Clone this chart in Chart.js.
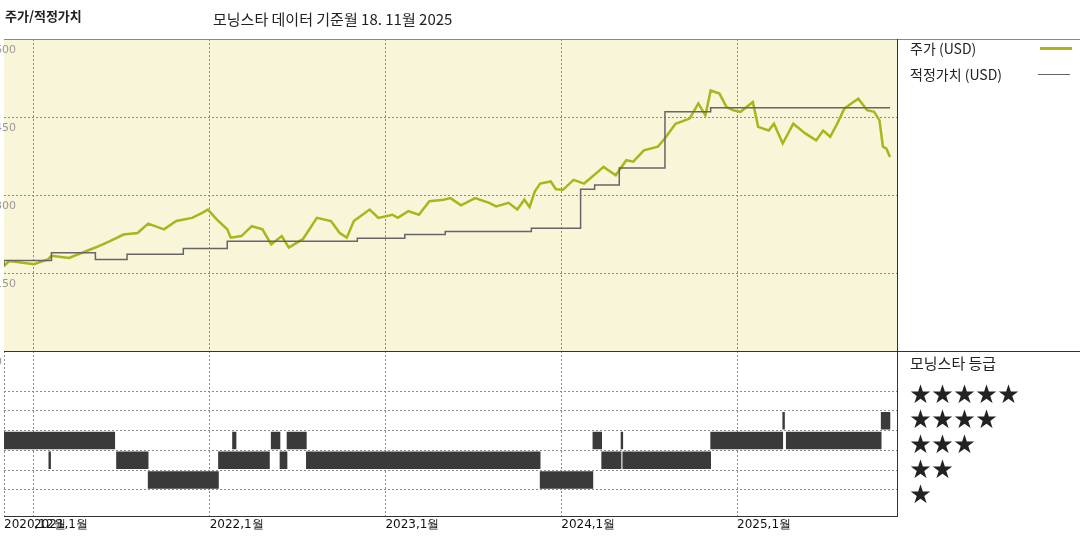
<!DOCTYPE html>
<html><head><meta charset="utf-8">
<script src="https://cdn.jsdelivr.net/npm/chart.js@4"></script>
<style>
body{margin:0;background:#fff;font-family:"Noto Sans CJK KR",sans-serif;}
#wrap{position:relative;width:1080px;height:540px;overflow:hidden;}
canvas{position:absolute;left:0;}
.t{position:absolute;white-space:nowrap;color:#222;}
.ln{position:absolute;background:#333;}
</style></head><body>
<div id="wrap">
<canvas id="price" width="1080" height="372" style="top:0;"></canvas>
<canvas id="rating" width="1080" height="189" style="top:351px;"></canvas>
<div class="t" style="left:5px;top:6px;font-size:13px;font-weight:bold">주가/적정가치</div>
<div class="t" style="left:213px;top:8px;font-size:15px">모닝스타 데이터 기준월 18. 11월 2025</div>
<div class="ln" style="left:4px;top:39px;width:1076px;height:1px;background:#888"></div>
<div class="ln" style="left:4px;top:351px;width:1076px;height:1px"></div>
<div class="ln" style="left:4px;top:516px;width:893px;height:1px"></div>
<div class="ln" style="left:897px;top:39px;width:1px;height:478px"></div>
<div class="t" style="left:910px;top:38px;font-size:14px">주가 (USD)</div>
<div class="ln" style="left:1040px;top:47px;width:32px;height:3px;background:#aab51c"></div>
<div class="t" style="left:910px;top:64px;font-size:14px">적정가치 (USD)</div>
<div class="ln" style="left:1038px;top:74px;width:32px;height:1px;background:#666"></div>
<div class="t" style="left:910px;top:352px;font-size:15px">모닝스타 등급</div>
<div class="t" style="left:910px;top:377px;font-size:21px;letter-spacing:1px">★★★★★</div>
<div class="t" style="left:910px;top:402px;font-size:21px;letter-spacing:1px">★★★★</div>
<div class="t" style="left:910px;top:427px;font-size:21px;letter-spacing:1px">★★★</div>
<div class="t" style="left:910px;top:452px;font-size:21px;letter-spacing:1px">★★</div>
<div class="t" style="left:910px;top:477px;font-size:21px;letter-spacing:1px">★</div>
</div>
<script>
// price (USD), x = fractional year
const priceDates = [2020.83,2020.86,2021.00,2021.08,2021.10,2021.20,2021.35,2021.43,2021.51,2021.59,2021.65,2021.74,2021.81,2021.90,2021.96,2021.99,
  2022.04,2022.10,2022.12,2022.18,2022.24,2022.30,2022.35,2022.41,2022.45,2022.53,2022.61,2022.69,2022.74,2022.78,2022.82,2022.91,2022.96,
  2023.04,2023.07,2023.13,2023.19,2023.25,2023.33,2023.37,2023.43,2023.51,2023.59,2023.63,2023.70,2023.75,2023.79,2023.82,2023.85,
  2023.88,2023.94,2023.97,2024.01,2024.07,2024.13,2024.21,2024.24,2024.31,2024.37,2024.41,2024.47,2024.55,2024.59,2024.65,2024.73,2024.78,2024.82,
  2024.85,2024.90,2024.94,2024.98,2025.02,2025.09,2025.12,2025.18,2025.21,2025.26,2025.32,2025.39,2025.45,2025.49,2025.53,2025.57,2025.61,2025.65,
  2025.69,2025.74,2025.78,2025.81,2025.83,2025.85,2025.87];
const priceValues = [164,173,167,176,183,179,199,211,224,227,245,234,250,256,266,272,
  253,234,218,221,240,234,205,221,199,215,256,250,227,218,250,272,256,
  262,256,269,262,288,291,294,280,294,285,278,285,272,291,277,307,
  322,326,311,310,329,322,345,354,338,367,364,386,393,409,437,447,476,453,
  501,495,469,463,460,479,431,424,437,399,437,418,405,424,412,437,466,476,
  485,463,460,444,393,389,373];
// fair value (USD), value holds from each date on
const fvDates = [2020.83,2021.10,2021.35,2021.53,2021.85,2022.10,2022.84,2023.11,2023.34,2023.83,2024.11,2024.19,2024.33,2024.59,2024.85,2025.82,2025.87];
const fvValues = [162,174,189,176,186,197,211,217,224,230,236,311,319,352,460,468,468];
// star rating periods
const ratingStart = [2020.82,2022.13,2022.35,2022.44,2024.18,2024.34,2024.85,2025.28, 2021.085,2021.47,2022.05,2022.40,2022.55,2024.23,2024.35, 2021.65,2023.88, 2025.26,2025.82];
const ratingEnd   = [2021.46,2022.15,2022.40,2022.55,2024.23,2024.35,2025.26,2025.82, 2021.095,2021.65,2022.34,2022.44,2023.88,2024.34,2024.85, 2022.05,2024.18, 2025.27,2025.87];
const ratingStars = [3,3,3,3,3,3,3,3, 2,2,2,2,2,2,2, 1,1, 4,4];
const yearTicks = [2021,2022,2023,2024,2025];
const priceTicks = [0,150,300,450,600];

const xMin = 2020.83, xMax = 2025.91;
const gridStyle = {color:'#8a8a8a', drawTicks:false, lineWidth:1};
const borderStyle = {display:false, dash:[2,2]};
const bgPlugin = {id:'bg', beforeDraw(c){const a=c.chartArea;c.ctx.save();c.ctx.fillStyle='#f8f5d8';c.ctx.fillRect(a.left,a.top,a.right-a.left,a.bottom-a.top);c.ctx.restore();}};

new Chart(document.getElementById('price'), {
  type:'line',
  data:{datasets:[
    {data:fvDates.map((d,i)=>({x:d,y:fvValues[i]})), borderColor:'#666', borderWidth:1.5, pointRadius:0, stepped:'after'},
    {data:priceDates.map((d,i)=>({x:d,y:priceValues[i]})), borderColor:'#aab51c', borderWidth:2.5, pointRadius:0, tension:0}
  ]},
  options:{responsive:false, animation:false, devicePixelRatio:1,
    layout:{padding:{left:4,top:39,right:183,bottom:21}},
    plugins:{legend:{display:false},tooltip:{enabled:false}},
    scales:{
      x:{type:'linear',min:xMin,max:xMax,afterBuildTicks:s=>{s.ticks=yearTicks.map(v=>({value:v}));},
        ticks:{display:false},grid:gridStyle,border:borderStyle},
      y:{min:0,max:600,afterBuildTicks:s=>{s.ticks=priceTicks.map(v=>({value:v}));},
        ticks:{mirror:true,padding:-3,labelOffset:11,color:'#999',font:{size:11,family:'DejaVu Sans'}},
        grid:gridStyle,border:borderStyle}
    }},
  plugins:[bgPlugin]
});

new Chart(document.getElementById('rating'), {
  type:'bar',
  data:{datasets:[{data:ratingStart.map((s,i)=>({x:[s,ratingEnd[i]],y:ratingStars[i]})),
    backgroundColor:'#3a3a3a', borderWidth:0, barThickness:17, grouped:false}]},
  options:{responsive:false, animation:false, devicePixelRatio:1, indexAxis:'y',
    layout:{padding:{left:4,top:0,right:183,bottom:6}},
    plugins:{legend:{display:false},tooltip:{enabled:false}},
    scales:{
      x:{type:'linear',min:xMin,max:xMax,afterBuildTicks:s=>{s.ticks=[{value:xMin}].concat(yearTicks.map(v=>({value:v})));},
        ticks:{align:'start',padding:2,color:'#111',font:{size:12,family:'DejaVu Sans'},
          callback:v=>v<2021?'2020,12월':v+',1월'},
        grid:gridStyle,border:borderStyle},
      y:{type:'linear',min:0.03,max:6.7,afterBuildTicks:s=>{s.ticks=[1,2,3,4,5].map(v=>({value:v}));},
        ticks:{display:false},grid:gridStyle,border:borderStyle}
    }}
});
</script>
</body></html>
